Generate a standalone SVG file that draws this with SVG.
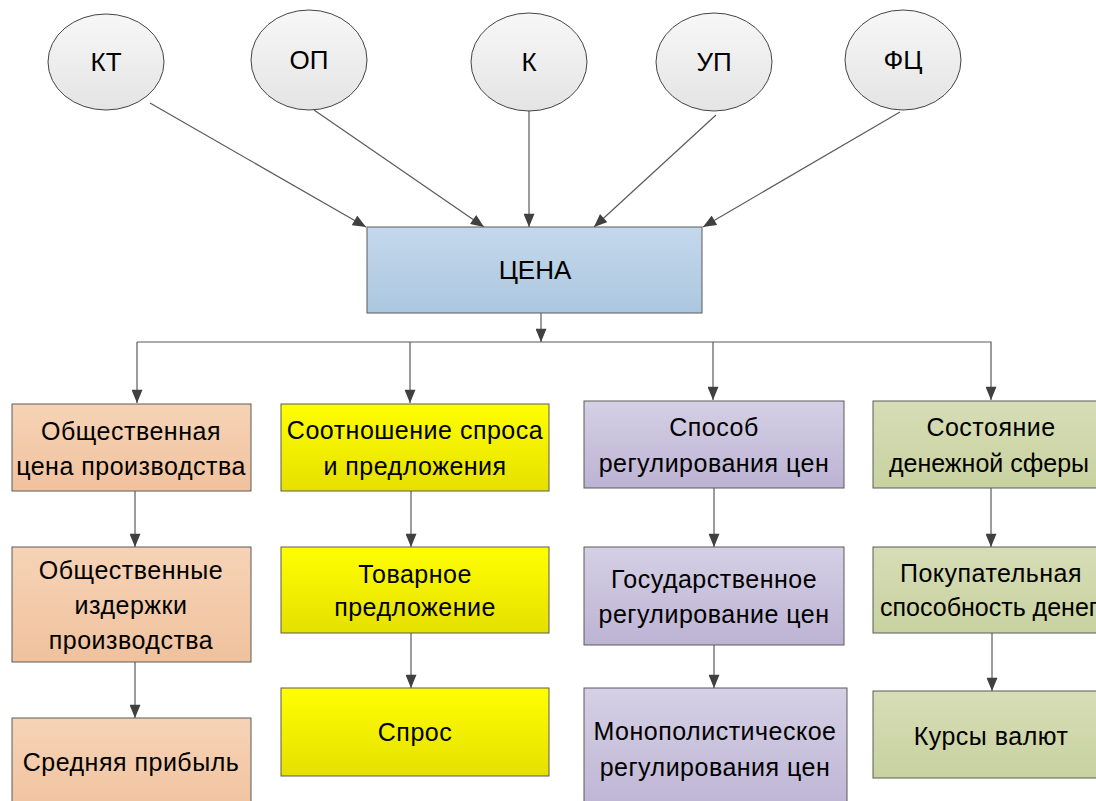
<svg xmlns="http://www.w3.org/2000/svg" width="1096" height="801" viewBox="0 0 1096 801">
<style>
.t{font-family:'Liberation Sans',Arial,sans-serif;font-size:25px;letter-spacing:0.5px;fill:#000;text-anchor:middle}
.e{font-size:26px;letter-spacing:0}
.n{letter-spacing:0}
.box{stroke:#5a5a5a;stroke-width:1}
.ell{fill:url(#gE);stroke:#444;stroke-width:1}
.c{fill:none;stroke:#5a5a5a;stroke-width:1.2}
</style>
<defs>
<linearGradient id="gE" x1="0" y1="0" x2="0" y2="1"><stop offset="0" stop-color="#f7f7f7"/><stop offset="1" stop-color="#e4e4e4"/></linearGradient>
<linearGradient id="gB" x1="0" y1="0" x2="0" y2="1"><stop offset="0" stop-color="#c4d8eb"/><stop offset="1" stop-color="#abc7df"/></linearGradient>
<linearGradient id="gO" x1="0" y1="0" x2="0" y2="1"><stop offset="0" stop-color="#f6d3b6"/><stop offset="1" stop-color="#f0c29e"/></linearGradient>
<linearGradient id="gY" x1="0" y1="0" x2="0" y2="1"><stop offset="0" stop-color="#ffff00"/><stop offset="1" stop-color="#e5e000"/></linearGradient>
<linearGradient id="gP" x1="0" y1="0" x2="0" y2="1"><stop offset="0" stop-color="#d5d0e5"/><stop offset="1" stop-color="#bcb3d3"/></linearGradient>
<linearGradient id="gG" x1="0" y1="0" x2="0" y2="1"><stop offset="0" stop-color="#d7ddb6"/><stop offset="1" stop-color="#c8d2a0"/></linearGradient>
<marker id="a2" viewBox="0 0 12 10" refX="12" refY="5" markerWidth="14" markerHeight="11" markerUnits="userSpaceOnUse" orient="auto"><path d="M0,0 L12,5 L0,10 Z" fill="#404040"/></marker>
</defs>
<g id="connectors">
<line class="c" x1="150" y1="103" x2="366" y2="227" marker-end="url(#a2)"/>
<line class="c" x1="314" y1="110" x2="484" y2="227" marker-end="url(#a2)"/>
<line class="c" x1="529" y1="110" x2="529" y2="227" marker-end="url(#a2)"/>
<line class="c" x1="716" y1="115" x2="594" y2="227" marker-end="url(#a2)"/>
<line class="c" x1="900" y1="112" x2="703" y2="227" marker-end="url(#a2)"/>
<line class="c" x1="541" y1="313" x2="541" y2="342" marker-end="url(#a2)"/>
<polyline class="c" points="137,342 991,342 991,400" marker-end="url(#a2)"/>
<line class="c" x1="137" y1="342" x2="137" y2="403" marker-end="url(#a2)"/>
<line class="c" x1="410" y1="342" x2="410" y2="403" marker-end="url(#a2)"/>
<line class="c" x1="713" y1="342" x2="713" y2="400" marker-end="url(#a2)"/>
<line class="c" x1="135" y1="491" x2="135" y2="547" marker-end="url(#a2)"/>
<line class="c" x1="135" y1="662" x2="135" y2="718" marker-end="url(#a2)"/>
<line class="c" x1="411" y1="491" x2="411" y2="547" marker-end="url(#a2)"/>
<line class="c" x1="411" y1="633" x2="411" y2="688" marker-end="url(#a2)"/>
<line class="c" x1="714" y1="488" x2="714" y2="547" marker-end="url(#a2)"/>
<line class="c" x1="714" y1="645" x2="714" y2="688" marker-end="url(#a2)"/>
<line class="c" x1="991" y1="488" x2="991" y2="547" marker-end="url(#a2)"/>
<line class="c" x1="992" y1="633" x2="992" y2="691" marker-end="url(#a2)"/>
</g>
<g id="n-kt"><ellipse class="ell" cx="106" cy="62" rx="58" ry="48"/><text class="t e" x="106" y="71">КТ</text></g>
<g id="n-op"><ellipse class="ell" cx="309" cy="60" rx="58" ry="50"/><text class="t e" x="309" y="69">ОП</text></g>
<g id="n-k"><ellipse class="ell" cx="529" cy="62" rx="58" ry="49"/><text class="t e" x="529" y="71">К</text></g>
<g id="n-up"><ellipse class="ell" cx="714" cy="62" rx="58" ry="49"/><text class="t e" x="714" y="71">УП</text></g>
<g id="n-fc"><ellipse class="ell" cx="903" cy="60" rx="58" ry="50"/><text class="t e" x="903" y="69">ФЦ</text></g>
<g id="n-cena"><rect class="box" x="367" y="227" width="335" height="86" fill="url(#gB)"/><text class="t e" x="535" y="279">ЦЕНА</text></g>
<g id="n-c1a"><rect class="box" x="12" y="404" width="239" height="87" fill="url(#gO)"/><text class="t" x="131" y="440">Общественная</text><text class="t" x="131" y="475">цена производства</text></g>
<g id="n-c1b"><rect class="box" x="12" y="547" width="239" height="115" fill="url(#gO)"/><text class="t" x="131" y="579">Общественные</text><text class="t" x="131" y="614">издержки</text><text class="t" x="131" y="649">производства</text></g>
<g id="n-c1c"><rect class="box" x="12" y="718" width="239" height="100" fill="url(#gO)"/><text class="t" x="131" y="771">Средняя прибыль</text></g>
<g id="n-c2a"><rect class="box" x="281" y="404" width="268" height="87" fill="url(#gY)"/><text class="t" x="415" y="439">Соотношение спроса</text><text class="t" x="415" y="475">и предложения</text></g>
<g id="n-c2b"><rect class="box" x="281" y="547" width="268" height="86" fill="url(#gY)"/><text class="t" x="415" y="583">Товарное</text><text class="t" x="415" y="616">предложение</text></g>
<g id="n-c2c"><rect class="box" x="281" y="688" width="268" height="88" fill="url(#gY)"/><text class="t" x="415" y="741">Спрос</text></g>
<g id="n-c3a"><rect class="box" x="584" y="401" width="260" height="87" fill="url(#gP)"/><text class="t" x="714" y="436">Способ</text><text class="t" x="714" y="472">регулирования цен</text></g>
<g id="n-c3b"><rect class="box" x="584" y="547" width="260" height="98" fill="url(#gP)"/><text class="t" x="714" y="588">Государственное</text><text class="t" x="714" y="623">регулирование цен</text></g>
<g id="n-c3c"><rect class="box" x="584" y="688" width="263" height="130" fill="url(#gP)"/><text class="t" x="715" y="740">Монополистическое</text><text class="t" x="715" y="776">регулирования цен</text></g>
<g id="n-c4a"><rect class="box" x="873" y="401" width="240" height="87" fill="url(#gG)"/><text class="t" x="991" y="436">Состояние</text><text class="t n" x="989" y="472">денежной сферы</text></g>
<g id="n-c4b"><rect class="box" x="873" y="547" width="240" height="86" fill="url(#gG)"/><text class="t" x="991" y="582">Покупательная</text><text class="t n" x="989" y="616">способность денег</text></g>
<g id="n-c4c"><rect class="box" x="873" y="691" width="240" height="87" fill="url(#gG)"/><text class="t" x="991" y="745">Курсы валют</text></g>
</svg>
